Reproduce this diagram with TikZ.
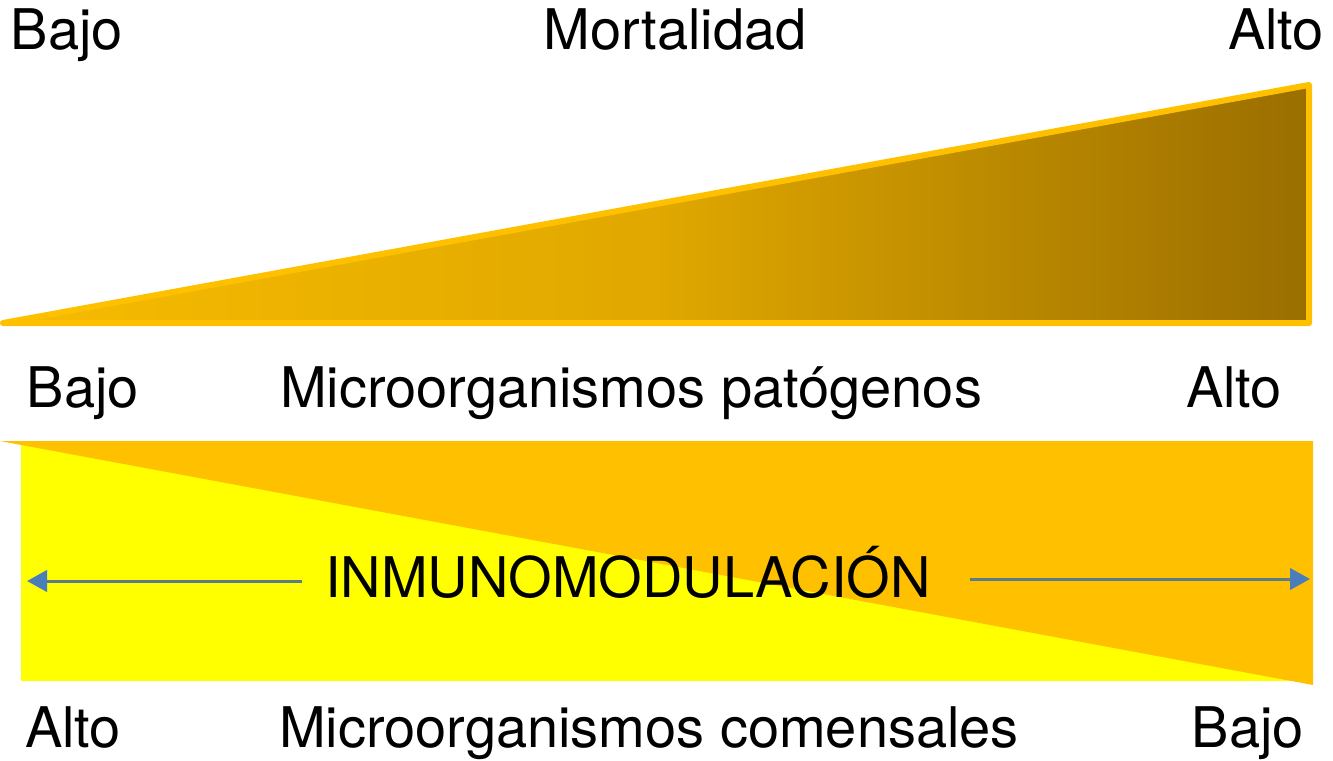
\documentclass[tikz,border=0pt]{standalone}
\usepackage{fontspec}
\setmainfont{TeX Gyre Heros}
\usepackage{tikz}
\usetikzlibrary{arrows.meta,positioning,calc}
\definecolor{oro}{HTML}{FFC000}
\definecolor{oroclaro}{HTML}{F7BB00}
\definecolor{oromedio}{HTML}{E0A800}
\definecolor{oroscuro}{HTML}{9A6E00}
\definecolor{amarillo}{HTML}{FFFF00}
\definecolor{lineagris}{HTML}{5B7A8A}
\definecolor{puntaazul}{HTML}{4A7EBB}

\begin{document}
\begin{tikzpicture}[x=0.75pt, y=-0.75pt]
\tikzstyle{rotulo} = [anchor=base, inner sep=0pt, font=\fontsize{42}{50}\selectfont];
\tikzstyle{flecha} = [draw=lineagris, line width=2.25pt, -{Triangle[length=15pt, width=16pt, color=puntaazul]}];

\useasboundingbox (0,0) rectangle (1333,760);

% cuña de mortalidad
\draw[draw=oro, line width=4.5pt, line join=round, left color=oroclaro, right color=oroscuro, middle color=oromedio]
  (3,323) -- (1309,85) -- (1309,323) -- cycle;

% banda inferior
\fill[amarillo] (21,441) rectangle (1313,681);
\fill[oro] (0,441) -- (1313,441) -- (1313,685) -- cycle;

% textos
\node (bajo1) [rotulo] at (67,49) {Bajo};
\node (mort) [rotulo] at (675,49) {Mortalidad};
\node (alto1) [rotulo] at (1276,49) {Alto};

\node (bajo2) [rotulo] at (83,407) {Bajo};
\node (pato) [rotulo] at (631,407) {Microorganismos patógenos};
\node (alto2) [rotulo] at (1234,407) {Alto};

\node (inmuno) [rotulo, inner xsep=17pt] at (628,597) {INMUNOMODULACIÓN};

\node (alto3) [rotulo] at (73,747) {Alto};
\node (come) [rotulo] at (649,747) {Microorganismos comensales};
\node (bajo3) [rotulo] at (1248,747) {Bajo};

% flechas
\coordinate (izq) at (27,581);
\coordinate (der) at (1310,579);
\draw[flecha] (inmuno.west |- izq) -- (izq);
\draw[flecha, shorten <=12pt] (inmuno.east |- der) -- (der);
\end{tikzpicture}
\end{document}
